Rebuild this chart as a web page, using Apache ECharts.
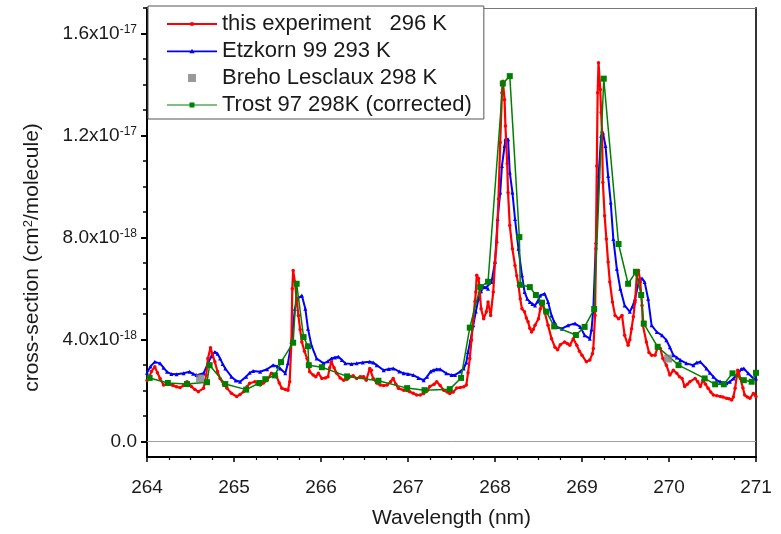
<!DOCTYPE html>
<html><head><meta charset="utf-8">
<script src="https://cdn.jsdelivr.net/npm/echarts@6/dist/echarts.min.js"></script>
<style>html,body{margin:0;padding:0;background:#fff}#c{width:781px;height:534px}</style>
</head><body><div id="c"></div>
<script>
// values in units of 1e-18 cm^2/molecule
const expWl = [264.00,264.02,264.05,264.09,264.12,264.15,264.19,264.24,264.30,264.34,264.38,264.42,264.46,264.51,264.55,264.59,264.65,264.68,264.70,264.73,264.75,264.78,264.81,264.84,264.88,264.92,264.97,265.03,265.07,265.11,265.15,265.18,265.24,265.30,265.34,265.38,265.43,265.46,265.49,265.52,265.55,265.59,265.62,265.64,265.66,265.67,265.68,265.70,265.72,265.74,265.76,265.78,265.81,265.84,265.87,265.91,265.94,265.97,266.01,266.05,266.08,266.10,266.12,266.15,266.18,266.22,266.26,266.30,266.33,266.37,266.41,266.45,266.49,266.52,266.56,266.58,266.60,266.64,266.68,266.72,266.76,266.80,266.83,266.86,266.89,266.95,267.02,267.06,267.10,267.14,267.18,267.22,267.25,267.30,267.33,267.37,267.41,267.45,267.48,267.52,267.56,267.60,267.64,267.67,267.69,267.71,267.73,267.75,267.77,267.78,267.79,267.81,267.82,267.84,267.87,267.90,267.92,267.95,267.98,268.00,268.02,268.04,268.06,268.08,268.09,268.11,268.12,268.14,268.15,268.17,268.20,268.23,268.25,268.27,268.29,268.31,268.34,268.36,268.38,268.40,268.42,268.44,268.46,268.50,268.52,268.54,268.57,268.61,268.65,268.69,268.72,268.75,268.80,268.83,268.86,268.90,268.94,268.97,269.00,269.05,269.09,269.12,269.13,269.15,269.16,269.17,269.18,269.19,269.21,269.22,269.23,269.24,269.26,269.28,269.30,269.32,269.35,269.38,269.42,269.46,269.49,269.53,269.55,269.57,269.59,269.61,269.63,269.65,269.67,269.69,269.70,269.74,269.77,269.80,269.84,269.87,269.90,269.93,269.97,270.01,270.05,270.09,270.12,270.15,270.18,270.21,270.24,270.30,270.33,270.36,270.39,270.42,270.45,270.48,270.51,270.55,270.59,270.62,270.66,270.69,270.72,270.74,270.76,270.78,270.79,270.80,270.82,270.85,270.87,270.90,270.93,270.97,271.00];
const expVal = [2.40,2.48,2.75,2.94,2.70,2.48,2.22,2.25,2.20,2.15,2.12,2.20,2.35,2.16,2.05,1.96,2.09,2.60,3.26,3.68,3.45,3.13,2.75,2.48,2.25,2.09,1.90,1.77,1.85,1.96,2.15,2.29,2.35,2.22,2.30,2.41,2.68,2.62,2.55,2.30,2.09,2.05,2.02,2.35,3.91,6.00,6.71,6.26,5.60,4.95,4.40,3.91,3.55,3.26,2.74,2.61,2.55,2.68,2.48,2.50,2.55,2.90,3.13,2.90,2.68,2.50,2.41,2.45,2.55,2.58,2.48,2.55,2.55,2.41,2.87,2.80,2.48,2.30,2.22,2.20,2.22,2.35,2.48,2.25,2.09,2.02,1.96,1.90,1.83,1.83,1.89,2.00,2.16,2.25,2.35,2.20,2.02,1.95,1.89,1.95,2.10,2.12,2.15,2.22,2.70,3.26,4.00,4.82,5.50,5.87,6.52,6.40,6.13,5.21,4.82,5.09,5.48,4.95,5.87,7.04,7.82,9.51,11.73,13.68,14.13,13.40,12.37,10.90,9.77,8.47,7.56,6.91,6.50,6.13,5.60,5.21,5.09,4.85,4.70,4.45,4.30,4.40,4.56,4.82,5.20,5.48,5.09,4.56,4.04,3.70,3.60,3.80,3.91,3.85,3.78,4.04,3.78,3.55,3.39,3.13,3.20,3.45,3.65,4.95,7.56,10.81,13.68,14.85,13.81,12.90,12.12,10.16,8.86,7.95,7.04,6.26,5.48,4.95,4.82,4.95,4.17,3.78,4.00,4.43,4.90,5.48,6.52,6.71,6.26,5.34,4.56,3.91,3.50,3.39,3.39,3.70,3.65,3.26,3.00,2.61,2.80,2.68,2.55,2.48,2.16,2.25,2.35,2.48,2.35,2.16,2.41,2.25,2.09,1.95,1.83,1.80,1.77,1.75,1.70,1.68,1.63,1.75,2.09,2.60,2.80,2.70,2.48,2.10,1.83,1.75,1.70,1.89,1.77];

const etzWl = [264.00,264.04,264.09,264.15,264.19,264.23,264.28,264.34,264.42,264.49,264.53,264.57,264.65,264.70,264.74,264.78,264.81,264.84,264.87,264.90,264.97,265.02,265.07,265.14,265.18,265.22,265.30,265.38,265.45,265.50,265.53,265.59,265.62,265.66,265.70,265.73,265.78,265.82,265.85,265.89,265.95,266.03,266.08,266.12,266.16,266.20,266.24,266.28,266.35,266.41,266.48,266.56,266.60,266.64,266.72,266.78,266.83,266.90,266.95,267.00,267.06,267.12,267.18,267.22,267.26,267.29,267.33,267.37,267.44,267.50,267.54,267.60,267.64,267.67,267.69,267.72,267.75,267.78,267.81,267.84,267.87,267.90,267.92,267.96,268.00,268.03,268.06,268.08,268.11,268.12,268.15,268.17,268.20,268.23,268.27,268.31,268.34,268.37,268.40,268.43,268.46,268.49,268.52,268.57,268.61,268.65,268.68,268.71,268.77,268.84,268.92,268.98,269.03,269.09,269.11,269.13,269.16,269.19,269.22,269.24,269.27,269.30,269.33,269.36,269.40,269.44,269.49,269.55,269.58,269.61,269.66,269.69,269.72,269.76,269.80,269.86,269.92,269.97,270.01,270.05,270.09,270.13,270.20,270.28,270.32,270.36,270.43,270.47,270.51,270.55,270.59,270.66,270.70,270.74,270.80,270.83,270.86,270.91,270.97,271.00];
const etzVal = [2.70,2.95,3.13,3.07,2.90,2.74,2.65,2.64,2.68,2.74,2.66,2.61,2.68,3.07,3.35,3.52,3.45,3.26,3.05,2.87,2.55,2.40,2.35,2.55,2.70,2.77,2.74,2.84,3.00,2.95,2.87,2.68,3.07,3.91,5.21,5.60,5.73,5.21,4.43,3.78,3.26,3.07,3.15,3.26,3.30,3.33,3.20,3.07,3.05,3.07,3.10,3.13,3.10,3.00,2.80,2.85,2.87,2.75,2.68,2.65,2.61,2.50,2.41,2.55,2.75,2.80,2.84,2.84,2.68,2.61,2.61,2.75,2.87,3.10,3.52,4.00,4.56,5.10,5.60,5.90,6.06,6.05,6.00,6.26,7.04,8.73,9.77,10.81,11.59,11.86,11.86,10.55,9.77,8.73,7.56,6.52,5.87,5.60,5.48,5.40,5.34,5.50,5.73,5.80,5.48,4.95,4.70,4.50,4.43,4.56,4.63,4.50,4.17,4.04,4.40,5.21,7.82,10.42,11.99,12.12,11.59,10.42,9.38,7.95,6.78,6.00,5.34,5.09,5.30,5.60,6.39,6.40,6.26,5.60,4.56,4.30,4.17,3.98,3.70,3.39,3.30,3.20,3.07,3.00,3.10,3.13,2.87,2.70,2.55,2.40,2.35,2.29,2.35,2.48,2.68,2.85,2.87,2.68,2.48,2.48];

const brehoWl = [264.61, 269.99];
const brehoVal = [2.48, 3.26];

const trostWl = [264.03,264.24,264.46,264.69,264.72,264.90,265.14,265.29,265.36,265.47,265.54,265.68,265.72,265.80,265.85,265.86,266.01,266.30,266.66,266.99,267.19,267.48,267.61,267.71,267.83,267.92,268.09,268.17,268.28,268.29,268.40,268.47,268.54,268.59,268.68,268.93,269.03,269.14,269.25,269.42,269.53,269.62,269.68,269.71,269.87,270.11,270.41,270.53,270.63,270.73,270.86,270.95,271.00];
const trostVal = [2.50,2.30,2.26,2.33,3.00,2.26,2.04,2.30,2.45,2.60,3.12,3.88,6.19,4.10,3.74,3.00,2.92,2.56,2.39,2.10,2.02,2.06,2.50,4.47,6.06,6.27,14.04,14.33,8.02,6.15,6.06,5.75,5.45,5.10,4.52,4.18,4.50,5.20,14.23,7.75,6.19,6.66,5.75,4.63,3.72,3.00,2.48,2.25,2.25,2.68,2.41,2.35,2.70];

const seriesNames = ['this experiment   296 K', 'Etzkorn 99 293 K', 'Breho Lesclaux 298 K', 'Trost 97 298K (corrected)'];
const xTicks = [264, 265, 266, 267, 268, 269, 270, 271];
const yTicks = [0, 4, 8, 12, 16];
const yMinorTicks = [1, 2, 3, 5, 6, 7, 9, 10, 11, 13, 14, 15, 17];

const FONT = "'Liberation Sans', Arial, sans-serif";
const zip = (a, b) => a.map((v, i) => [v, b[i]]);

function yLabel(v) {
  if (v === 0) return '{a|0.0}';
  const real = v * 1e-18;
  const e = Math.floor(Math.log10(real) + 1e-9);
  const m = (real / Math.pow(10, e)).toFixed(1);
  return '{a|' + m + 'x10}{s|' + e + '}';
}

const chart = echarts.init(document.getElementById('c'), null, {renderer: 'canvas'});
const icons = {
  red: 'path://M0,3.1 H50 V4.9 H0 Z M27.1,4 A2.1,2.1 0 1 1 22.9,4 A2.1,2.1 0 1 1 27.1,4 Z',
  blue: 'path://M0,3.1 H50 V4.9 H0 Z M25,1.4 L27.6,6 L22.4,6 Z',
  gray: 'path://M0,0 H8 V8 H0 Z',
  green: 'path://M0,3.4 H50 V4.6 H0 Z M22.5,1.5 H27.5 V6.5 H22.5 Z'
};
chart.setOption({
  animation: false,
  backgroundColor: '#fff',
  textStyle: {fontFamily: FONT},
  grid: {left: 147, right: 25, top: 8, bottom: 75, containLabel: false},
  legend: {
    orient: 'vertical', left: 148, top: 6,
    backgroundColor: '#fff', borderColor: '#555', borderWidth: 1,
    padding: [7, 12, 3, 19], itemGap: 5, itemWidth: 50, itemHeight: 8,
    selectedMode: false,
    itemStyle: {borderWidth: 0},
    textStyle: {fontSize: 22, color: '#1a1a1a', fontFamily: FONT, lineHeight: 22},
    data: [
      {name: seriesNames[0], icon: icons.red},
      {name: seriesNames[1], icon: icons.blue},
      {name: seriesNames[2], icon: icons.gray},
      {name: seriesNames[3], icon: icons.green}
    ]
  },
  xAxis: [{
    type: 'value', min: 264, max: 271, interval: 1, position: 'bottom',
    axisLine: {show: true, onZero: false, lineStyle: {color: '#000', width: 2}},
    axisTick: {show: true, inside: false, length: 5, lineStyle: {color: '#000', width: 1.5}},
    minorTick: {show: true, splitNumber: 4, length: 3, lineStyle: {color: '#000', width: 1.2}},
    axisLabel: {fontSize: 19, color: '#1a1a1a', margin: 21, fontFamily: FONT,
      formatter: v => xTicks.includes(v) ? String(v) : ''},
    splitLine: {show: false}, minorSplitLine: {show: false},
    name: 'Wavelength (nm)', nameLocation: 'middle', nameGap: 51,
    nameTextStyle: {fontSize: 21, color: '#1a1a1a', fontFamily: FONT}
  }, {
    type: 'value', min: 264, max: 271, position: 'top',
    axisLine: {show: true, onZero: false, lineStyle: {color: '#777', width: 1}},
    axisTick: {show: false}, axisLabel: {show: false}, splitLine: {show: false}
  }],
  yAxis: [{
    type: 'value', min: -0.6, max: 17, position: 'left',
    axisLine: {show: true, onZero: false, lineStyle: {color: '#000', width: 2}},
    axisTick: {show: true, customValues: yTicks, length: 6, lineStyle: {color: '#000', width: 2}},
    axisLabel: {customValues: yTicks, margin: 10, formatter: yLabel,
      rich: {
        a: {fontSize: 19, color: '#1a1a1a', fontFamily: FONT},
        s: {fontSize: 12, color: '#1a1a1a', fontFamily: FONT, verticalAlign: 'top'}
      }},
    splitLine: {show: false},
    name: '{t|cross-section (cm}{u|2}{t|/molecule)}', nameLocation: 'middle', nameGap: 104,
    nameTextStyle: {
      padding: [0, 50, 0, 0],
      rich: {
        t: {fontSize: 21, color: '#1a1a1a', fontFamily: FONT},
        u: {fontSize: 13, color: '#1a1a1a', fontFamily: FONT, verticalAlign: 'top'}
      }
    }
  }, {
    type: 'value', min: -0.6, max: 17, position: 'left',
    axisLine: {show: false, onZero: false},
    axisTick: {show: true, customValues: yMinorTicks, length: 4, lineStyle: {color: '#000', width: 1.5}},
    axisLabel: {show: false}, splitLine: {show: false}
  }, {
    type: 'value', min: -0.6, max: 17, position: 'right',
    axisLine: {show: true, onZero: false, lineStyle: {color: '#333', width: 2}},
    axisTick: {show: false}, axisLabel: {show: false}, splitLine: {show: false}
  }],
  series: [{
    name: seriesNames[0], type: 'line', data: zip(expWl, expVal),
    xAxisIndex: 0, yAxisIndex: 0, z: 3,
    symbol: 'circle', symbolSize: 3.5, showSymbol: true,
    lineStyle: {color: '#ff0000', width: 2.2}, itemStyle: {color: '#ff0000'},
    markLine: {silent: true, symbol: ['none', 'none'], label: {show: false},
      lineStyle: {color: '#a0a0a0', width: 1, type: 'solid'}, data: [{yAxis: 0}], z: 1}
  }, {
    name: seriesNames[1], type: 'line', data: zip(etzWl, etzVal),
    xAxisIndex: 0, yAxisIndex: 0, z: 2,
    symbol: 'triangle', symbolSize: 4, showSymbol: true,
    lineStyle: {color: '#0000ff', width: 2}, itemStyle: {color: '#0000ff'}
  }, {
    name: seriesNames[2], type: 'scatter', data: zip(brehoWl, brehoVal),
    xAxisIndex: 0, yAxisIndex: 0, z: 5,
    symbol: 'rect', symbolSize: 8, itemStyle: {color: '#808080'}
  }, {
    name: seriesNames[3], type: 'line', data: zip(trostWl, trostVal),
    xAxisIndex: 0, yAxisIndex: 0, z: 4,
    symbol: 'rect', symbolSize: 6, showSymbol: true,
    lineStyle: {color: '#008000', width: 1.5}, itemStyle: {color: '#008000'}
  }]
});
</script>
</body></html>
